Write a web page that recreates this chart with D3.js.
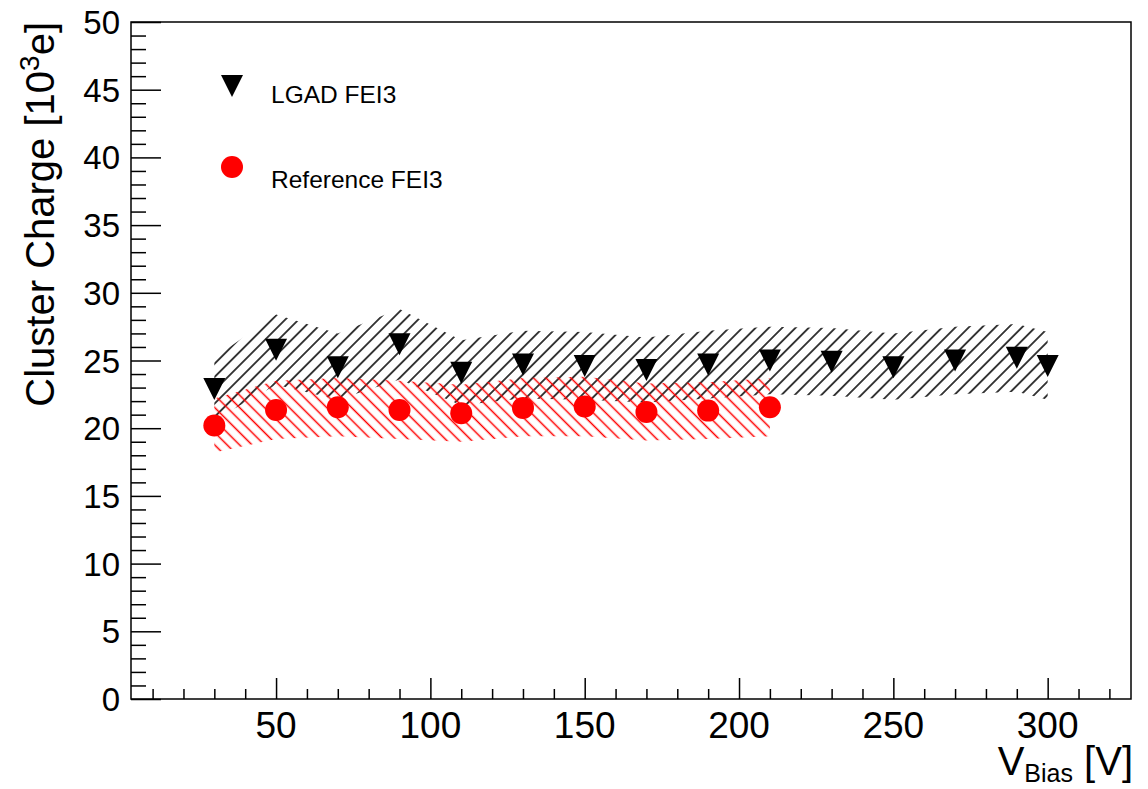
<!DOCTYPE html>
<html>
<head>
<meta charset="utf-8">
<script src="https://cdn.jsdelivr.net/npm/d3@7"></script>
<style>
  html, body { margin: 0; padding: 0; background: #fff; }
  svg { display: block; }
  text { font-family: "Liberation Sans", Arial, Helvetica, sans-serif; fill: #000; }
</style>
</head>
<body>
<svg id="chart" width="1148" height="789"></svg>
<script>
// ---- data ----
const lgadBias   = [30, 50, 70, 90, 110, 130, 150, 170, 190, 210, 230, 250, 270, 290, 300];
const lgadCharge = [22.9, 25.8, 24.5, 26.2, 24.1, 24.7, 24.6, 24.3, 24.7, 25.0, 24.9, 24.5, 25.0, 25.2, 24.6];
const lgadUpper  = [25.2, 28.4, 27.0, 28.8, 26.5, 27.2, 27.1, 26.7, 27.2, 27.5, 27.4, 27.0, 27.5, 27.7, 27.1];
const lgadLower  = [20.6, 23.2, 22.1, 23.6, 21.7, 22.2, 22.1, 21.9, 22.2, 22.5, 22.4, 22.1, 22.5, 22.7, 22.1];

const refBias    = [30, 50, 70, 90, 110, 130, 150, 170, 190, 210];
const refCharge  = [20.2, 21.35, 21.55, 21.35, 21.1, 21.5, 21.6, 21.2, 21.3, 21.55];
const refUpper   = [22.2, 23.5, 23.7, 23.5, 23.2, 23.7, 23.8, 23.3, 23.4, 23.7];
const refLower   = [18.2, 19.2, 19.4, 19.2, 19.0, 19.4, 19.4, 19.1, 19.2, 19.4];

const xTickValues = [50, 100, 150, 200, 250, 300];
const yTickValues = [0, 5, 10, 15, 20, 25, 30, 35, 40, 45, 50];
const seriesNames = ["LGAD FEI3", "Reference FEI3"];

// ---- layout ----
const svg = d3.select("#chart");
const plotL = 131, plotR = 1131, plotT = 22, plotB = 699;

const x = d3.scaleLinear().domain([3, 327]).range([plotL, plotR]);
const y = d3.scaleLinear().domain([0, 50]).range([plotB, plotT]);

// hatch patterns
const defs = svg.append("defs");
function hatch(id, color, angle, s) {
  const p = defs.append("pattern")
    .attr("id", id)
    .attr("patternUnits", "userSpaceOnUse")
    .attr("width", s).attr("height", s)
    .attr("patternTransform", `rotate(${angle})`);
  p.append("line")
    .attr("x1", s / 2).attr("y1", -1).attr("x2", s / 2).attr("y2", s + 1)
    .attr("stroke", color).attr("stroke-width", 1.5);
}
hatch("hatchBlack", "#000", 45, 9.4);
hatch("hatchRed", "#ff0000", -45, 8.8);

// bands
const lgadRows = lgadBias.map((b, i) => ({ b, lo: lgadLower[i], hi: lgadUpper[i], v: lgadCharge[i] }));
const refRows  = refBias.map((b, i) => ({ b, lo: refLower[i], hi: refUpper[i], v: refCharge[i] }));

const area = d3.area().x(d => x(d.b)).y0(d => y(d.lo)).y1(d => y(d.hi)).curve(d3.curveLinear);

svg.append("path").datum(lgadRows).attr("d", area).attr("fill", "url(#hatchBlack)").attr("stroke", "none");
svg.append("path").datum(refRows).attr("d", area).attr("fill", "url(#hatchRed)").attr("stroke", "none");

// markers
const triSize = 11;
const triPath = `M${-triSize},${-triSize}L${triSize},${-triSize}L0,${triSize}Z`;

svg.append("g").selectAll("path").data(lgadRows).join("path")
  .attr("d", triPath)
  .attr("transform", d => `translate(${x(d.b)},${y(d.v)})`)
  .attr("fill", "#000");

svg.append("g").selectAll("circle").data(refRows).join("circle")
  .attr("cx", d => x(d.b)).attr("cy", d => y(d.v)).attr("r", 11)
  .attr("fill", "#ff0000");

// frame
svg.append("rect")
  .attr("x", plotL).attr("y", plotT).attr("width", plotR - plotL).attr("height", plotB - plotT)
  .attr("fill", "none").attr("stroke", "#000").attr("stroke-width", 1.5);

// x axis (ticks pointing inward / up)
const xMinor = d3.range(10, 327, 10).filter(v => v % 50 !== 0);
const xAxisMajor = d3.axisBottom(x).tickValues(xTickValues).tickSize(-21).tickFormat("");
const xAxisMinor = d3.axisBottom(x).tickValues(xMinor).tickSize(-10).tickFormat("");
const gxMinor = svg.append("g").attr("transform", `translate(0,${plotB})`).call(xAxisMinor);
const gxMajor = svg.append("g").attr("transform", `translate(0,${plotB})`).call(xAxisMajor);
[gxMinor, gxMajor].forEach(g => {
  g.select(".domain").remove();
  g.selectAll("line").attr("stroke", "#000").attr("stroke-width", 1.5);
});
svg.append("g").selectAll("text").data(xTickValues).join("text")
  .attr("x", d => x(d)).attr("y", 738)
  .attr("text-anchor", "middle")
  .attr("font-size", 37)
  .text(d => d);

// y axis (ticks pointing inward / right)
const yMinor = d3.range(1, 50, 1).filter(v => v % 5 !== 0);
const yAxisMajor = d3.axisLeft(y).tickValues(yTickValues).tickSize(-30).tickFormat("");
const yAxisMinor = d3.axisLeft(y).tickValues(yMinor).tickSize(-15).tickFormat("");
const gyMinor = svg.append("g").attr("transform", `translate(${plotL},0)`).call(yAxisMinor);
const gyMajor = svg.append("g").attr("transform", `translate(${plotL},0)`).call(yAxisMajor);
[gyMinor, gyMajor].forEach(g => {
  g.select(".domain").remove();
  g.selectAll("line").attr("stroke", "#000").attr("stroke-width", 1.5);
});
svg.append("g").selectAll("text").data(yTickValues).join("text")
  .attr("x", 120).attr("y", d => y(d) + 12)
  .attr("text-anchor", "end")
  .attr("font-size", 33)
  .text(d => d);

// axis titles
const yTitle = svg.append("text")
  .attr("transform", `translate(54,${plotT}) rotate(-90)`)
  .attr("text-anchor", "end")
  .attr("font-size", 40);
yTitle.append("tspan").text("Cluster Charge [10");
yTitle.append("tspan").attr("font-size", 28).attr("dy", -15).text("3");
yTitle.append("tspan").attr("dy", 15).text("e]");

const xTitle = svg.append("text")
  .attr("x", 1133).attr("y", 775)
  .attr("text-anchor", "end")
  .attr("font-size", 40);
xTitle.append("tspan").text("V");
xTitle.append("tspan").attr("font-size", 25).attr("dy", 7).text("Bias");
xTitle.append("tspan").attr("dy", -7).text(" [V]");

// legend
const legend = svg.append("g");
legend.append("path").attr("d", triPath).attr("transform", "translate(232,86)").attr("fill", "#000");
legend.append("circle").attr("cx", 232).attr("cy", 167).attr("r", 11).attr("fill", "#ff0000");
legend.append("text").attr("x", 271).attr("y", 103).attr("font-size", 24.5).text(seriesNames[0]);
legend.append("text").attr("x", 271).attr("y", 188).attr("font-size", 24.5).text(seriesNames[1]);
</script>
</body>
</html>
